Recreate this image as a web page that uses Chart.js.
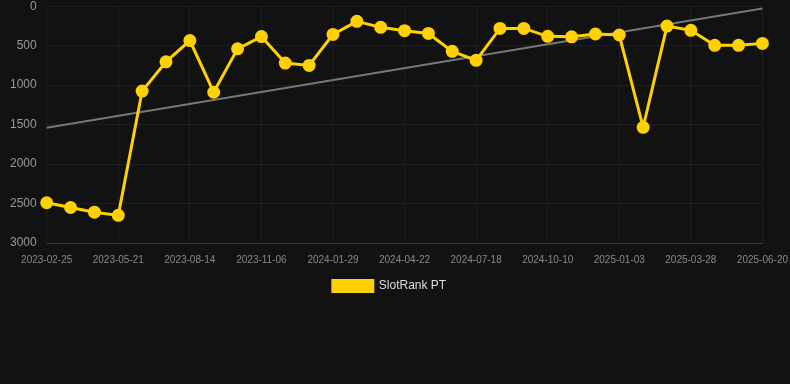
<!DOCTYPE html>
<html>
<head>
<meta charset="utf-8">
<script src="https://cdn.jsdelivr.net/npm/chart.js@4/dist/chart.umd.min.js"></script>
<style>
  html, body { margin: 0; padding: 0; background: #121212; overflow: hidden; width: 790px; height: 384px; }
  #wrap { position: relative; width: 799px; height: 313px; margin-top: -11px; }
</style>
</head>
<body>
<div id="wrap"><canvas id="c"></canvas></div>
<script>
const dates = [
  "2023-02-25","2023-03-24","2023-04-22","2023-05-21","2023-06-18","2023-07-16",
  "2023-08-14","2023-09-11","2023-10-09","2023-11-06","2023-12-04","2024-01-01",
  "2024-01-29","2024-02-26","2024-03-25","2024-04-22","2024-05-21","2024-06-19",
  "2024-07-18","2024-08-15","2024-09-12","2024-10-10","2024-11-07","2024-12-06",
  "2025-01-03","2025-01-31","2025-02-28","2025-03-28","2025-04-25","2025-05-23",
  "2025-06-20"
];
const rankPT = [
  2490, 2550, 2610, 2650, 1075, 705, 435, 1090, 540, 385,
  720, 750, 358, 192, 268, 310, 345, 572, 686, 281,
  281, 382, 388, 352, 365, 1535, 252, 306, 496, 496, 471
];
const trendPT = [1540].concat(new Array(29).fill(null)).concat([30]);
const yTicks = [0, 500, 1000, 1500, 2000, 2500, 3000];
const seriesName = "SlotRank PT";

new Chart(document.getElementById('c'), {
  type: 'line',
  data: {
    labels: dates,
    datasets: [
      {
        label: seriesName,
        data: rankPT,
        borderColor: '#FFD100',
        backgroundColor: '#FFD100',
        borderWidth: 3,
        pointRadius: 5,
        pointHoverRadius: 5,
        pointBackgroundColor: '#FFD100',
        pointBorderColor: '#FFD100',
        tension: 0,
        order: 1
      },
      {
        label: 'trend',
        data: trendPT,
        borderColor: '#777777',
        borderWidth: 2,
        pointRadius: 0,
        spanGaps: true,
        fill: false,
        order: 2
      }
    ]
  },
  options: {
    responsive: true,
    maintainAspectRatio: false,
    animation: false,
    layout: { padding: { left: 0, right: 20, top: 0, bottom: 0 } },
    plugins: {
      legend: {
        position: 'bottom',
        labels: {
          color: '#dddddd',
          padding: 3,
          font: { family: 'Liberation Sans, Arial, sans-serif', size: 12 },
          boxWidth: 40,
          boxHeight: 11,
          filter: (item) => item.text === seriesName
        }
      },
      tooltip: { enabled: false }
    },
    scales: {
      x: {
        grid: { color: 'rgba(255,255,255,0.05)', drawTicks: false },
        border: { color: 'rgba(255,255,255,0.12)' },
        ticks: {
          autoSkip: false,
          maxRotation: 0,
          padding: 11,
          color: '#888888',
          font: { family: 'Liberation Sans, Arial, sans-serif', size: 10 },
          callback: function(v, i) { return i % 3 === 0 ? dates[i] : null; }
        }
      },
      y: {
        reverse: true,
        min: 0,
        max: 3000,
        afterBuildTicks: (axis) => { axis.ticks = yTicks.map(v => ({ value: v })); },
        grid: { color: 'rgba(255,255,255,0.05)', drawTicks: false },
        border: { display: false },
        ticks: {
          padding: 10,
          color: '#999999',
          font: { family: 'Liberation Sans, Arial, sans-serif', size: 12 },
          callback: (v) => String(v)
        }
      }
    }
  }
});
</script>
</body>
</html>
